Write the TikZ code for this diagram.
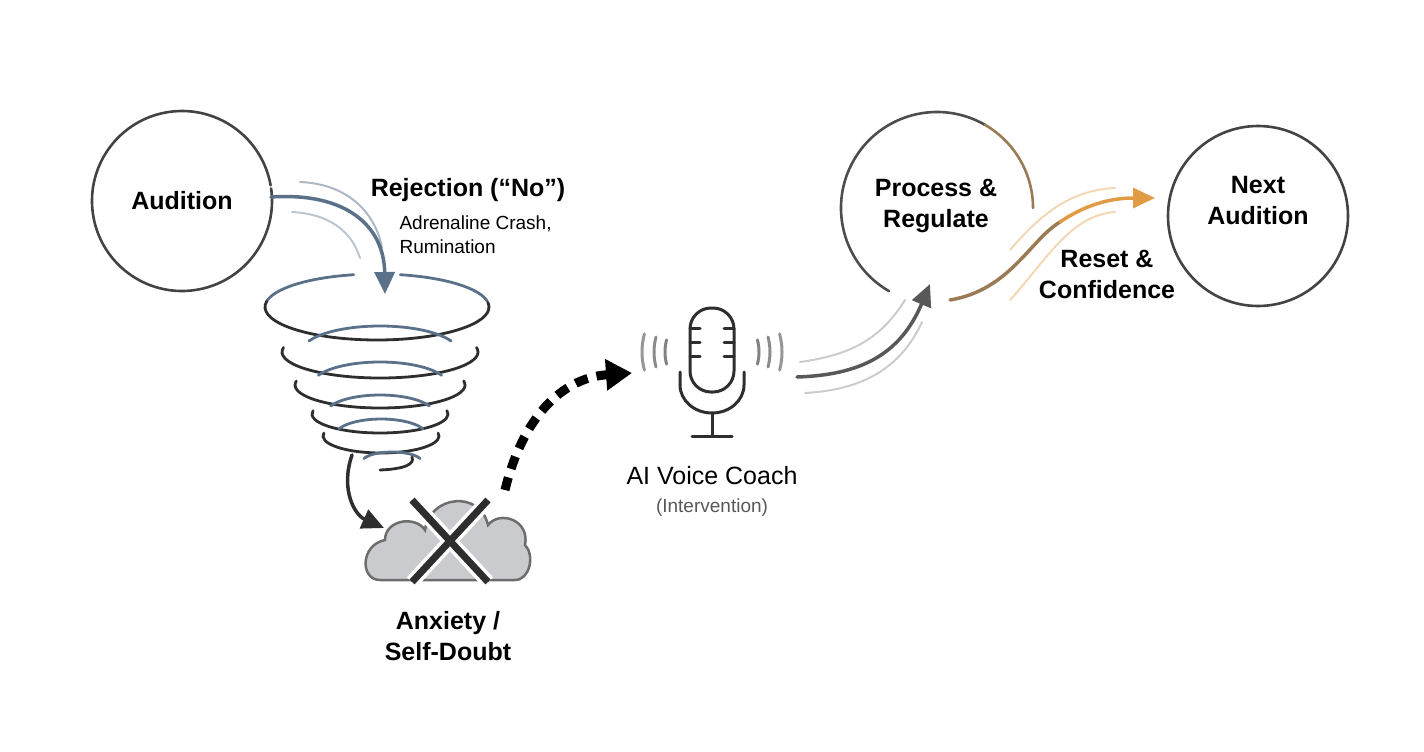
\documentclass[tikz,border=0pt]{standalone}
\usepackage{fontspec}
\setmainfont{Liberation Sans}
\usetikzlibrary{arrows.meta}
\definecolor{dk}{HTML}{2E2E2E}
\definecolor{steel}{HTML}{5A7189}
\definecolor{brn}{HTML}{9A7B55}
\definecolor{org}{HTML}{E29B45}
\definecolor{cld}{HTML}{C9CBCE}
\begin{document}
\begin{tikzpicture}[x=1pt,y=-1pt,line cap=round,
  ring/.style={draw=dk!90,line width=2.6pt},
  big/.style={font=\fontsize{25}{31}\selectfont\bfseries,text=black,align=center},
  med/.style={font=\fontsize{19}{24}\selectfont},
  tip/.style={-{Triangle[length=22pt,width=20pt]}},
  tw/.style={draw=dk,line width=2.8pt},
  tb/.style={draw=steel,line width=2.8pt}]
\useasboundingbox (0,0) rectangle (1424,752);
% Audition
\draw[ring] (182,201) ++(-8:90) arc[start angle=-8,end angle=350,radius=90];
\node[big] (aud) at (182,201) {Audition};
\node[big] (rej) at (468,190) {Rejection (“No”)};
\node[med,anchor=west,align=left] (adr) at (396,235) {Adrenaline Crash,\\Rumination};
\coordinate (a1) at (271,197);
\coordinate (a2) at (385,294);
\draw[steel!50,line width=2pt] (300,182) .. controls (350,184) and (376,215) .. (382,248);
\draw[steel!40,line width=2pt] (292,212) .. controls (330,214) and (352,232) .. (360,258);
\draw[steel,line width=3.5pt,tip] (a1) .. controls (345,192) and (384,225) .. (a2);
% tornado
\draw[tb] (377,307) ++(190:112 and 33) arc[start angle=190,end angle=258,x radius=112,y radius=33];
\draw[tb] (377,307) ++(282:112 and 33) arc[start angle=282,end angle=350,x radius=112,y radius=33];
\draw[tw] (377,307) ++(-8:112 and 33) arc[start angle=-8,end angle=190,x radius=112,y radius=33];
\foreach \cx/\cy/\rx/\ry in {380/352/98/26, 380/385/85/23, 380/414/68/19, 381/436/58/17}{
  \draw[tb] (\cx,\cy) ++(205:{\rx*0.8} and {\ry}) arc[start angle=205,end angle=335,x radius=\rx*0.8,y radius=\ry];
  \draw[tw] (\cx,\cy) ++(-10:{\rx} and {\ry}) arc[start angle=-10,end angle=190,x radius=\rx,y radius=\ry];
}
\draw[tb] (392,462) ++(200:30 and 10) arc[start angle=200,end angle=340,x radius=30,y radius=10];
\draw[tw] (380,470) .. controls (405,469) and (415,464) .. (412,457);
\coordinate (t1) at (352,455);
\coordinate (t2) at (384,528);
\draw[dk,line width=3.5pt,tip] (t1) .. controls (340,490) and (355,515) .. (t2);
% cloud
\draw[fill=cld,draw=dk!70,line width=2.5pt]
 (380,580) .. controls (360,580) and (360,545) .. (385,540)
 .. controls (385,520) and (415,515) .. (425,530)
 .. controls (430,495) and (480,490) .. (488,525)
 .. controls (500,510) and (530,520) .. (525,545)
 .. controls (535,555) and (530,580) .. (515,580) -- cycle;
\draw[white,line width=14pt,line cap=butt] (412,500) -- (488,582) (488,500) -- (412,582);
\draw[dk,line width=7pt,line cap=butt] (412,500) -- (488,582) (488,500) -- (412,582);
\node[big] (anx) at (448,636) {Anxiety /\\Self-Doubt};
% dashed
\coordinate (d1) at (505,490);
\coordinate (d2) at (632,373);
\draw[black,line width=9pt,line cap=butt,dash pattern=on 13pt off 9pt,-{Triangle[length=26pt,width=30pt]}] (d1) .. controls (522,420) and (560,378) .. (d2);
% microphone
\draw[dk,line width=3pt,rounded corners=21pt] (690,308) rectangle (734,392);
\foreach \yy in {328,342,356}{\draw[dk,line width=3pt] (690,\yy) -- (700,\yy) (724,\yy) -- (734,\yy);}
\draw[dk,line width=3pt] (680,372) -- (680,385) arc[start angle=180,end angle=0,x radius=32,y radius=28] -- (744,372);
\draw[dk,line width=3pt] (712,413) -- (712,436) (692,436) -- (732,436);
\foreach \r/\c in {47/60,58/55,70/50}{
 \draw[dk!\c,line width=3pt] (712,352) ++(165:\r) arc[start angle=165,end angle=195,radius=\r];
 \draw[dk!\c,line width=3pt] (712,352) ++(-15:\r) arc[start angle=-15,end angle=15,radius=\r];
}
\node[font=\fontsize{25}{30}\selectfont,text=black] (ai) at (712,476) {AI Voice Coach};
\node[med,text=dk!80] (int) at (712,508) {(Intervention)};
% arrow to process
\coordinate (m1) at (797,377);
\coordinate (m2) at (930,284);
\draw[gray!40,line width=2pt] (800,362) .. controls (850,355) and (880,340) .. (905,300);
\draw[gray!40,line width=2pt] (805,393) .. controls (860,390) and (900,370) .. (922,322);
\draw[dk!80,line width=3.5pt,tip] (m1) .. controls (860,375) and (900,355) .. (m2);
% process
\draw[dk!85,line width=2.6pt] (937,208) ++(120:96) arc[start angle=120,end angle=300,radius=96];
\draw[brn,line width=2.6pt] (937,208) ++(300:96) arc[start angle=300,end angle=360,radius=96];
\node[big] (proc) at (936,206) {Process \&\\Regulate};
% reset arrow
\coordinate (r1) at (950,300);
\coordinate (r2) at (1155,198);
\draw[org!40,line width=2pt] (1010,250) .. controls (1040,215) and (1070,190) .. (1115,188);
\draw[org!40,line width=2pt] (1010,300) .. controls (1045,262) and (1070,215) .. (1115,212);
\draw[brn,line width=3.5pt] (r1) .. controls (1010,290) and (1030,240) .. (1060,222);
\draw[org,line width=3.5pt,tip] (1060,222) .. controls (1085,205) and (1110,198) .. (r2);
\node[big] (res) at (1107,274) {Reset \&\\Confidence};
% next
\draw[ring] (1258,216) circle (90);
\node[big] (nxt) at (1258,201) {Next\\Audition};
\end{tikzpicture}
\end{document}
